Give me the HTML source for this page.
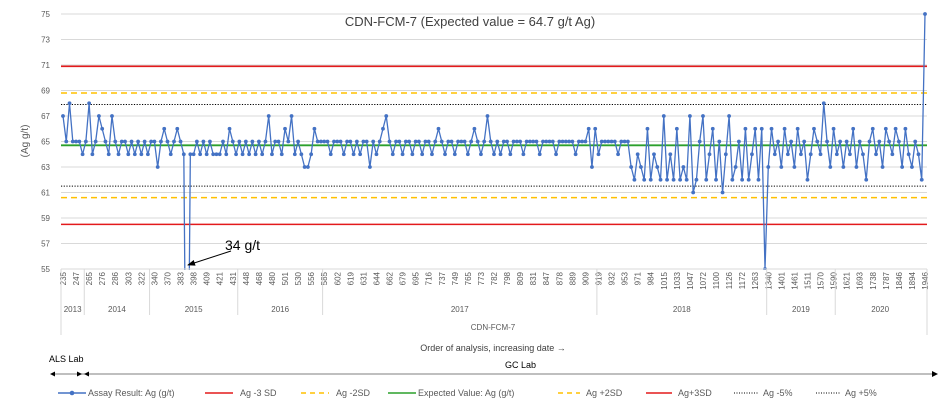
<!DOCTYPE html>
<html><head><meta charset="utf-8"><style>
html,body{margin:0;padding:0;background:#fff;width:948px;height:410px;overflow:hidden;}
svg{display:block;font-family:"Liberation Sans",sans-serif;}
</style></head><body>
<svg id="chart" width="948" height="410" xmlns="http://www.w3.org/2000/svg">
<defs><clipPath id="pc"><rect x="55" y="0" width="880" height="270"/></clipPath>
<marker id="ah" markerWidth="8" markerHeight="6" refX="7" refY="3" orient="auto"><path d="M0,0 L8,3 L0,6z" fill="#000"/></marker></defs>
<text x="470" y="26" font-size="13" text-anchor="middle" fill="#404040">CDN-FCM-7 (Expected value = 64.7 g/t Ag)</text>
<g id="grid"></g><g id="refs"></g><g id="series" clip-path="url(#pc)"></g><g id="xaxis"></g>
<text transform="translate(28,141) rotate(-90)" font-size="10" text-anchor="middle" fill="#595959">(Ag  g/t)</text>
<line x1="231" y1="251" x2="188" y2="265" stroke="#000" stroke-width="1" marker-end="url(#ah)"/>
<text x="225" y="250" font-size="14" fill="#000">34 g/t</text>
<text x="493" y="330" font-size="8" text-anchor="middle" fill="#595959">CDN-FCM-7</text>
<text x="493" y="351" font-size="9" text-anchor="middle" fill="#404040">Order of analysis, increasing date →</text>
<text x="49" y="362" font-size="9" fill="#000">ALS Lab</text>
<text x="505" y="368" font-size="9" fill="#000">GC Lab</text>
<line x1="52" y1="374" x2="936" y2="374" stroke="#7f7f7f" stroke-width="1"/>
<path d="M50,374 l5,-2.5 v5z M82,374 l-5,-2.5 v5z M84,374 l5,-2.5 v5z M938,374 l-6,-3 v6z" fill="#000"/>
<g id="legend" font-size="9" fill="#595959">
<line x1="58" y1="393" x2="86" y2="393" stroke="#4472c4" stroke-width="1.5"/><circle cx="72" cy="393" r="2.3" fill="#4472c4"/><text x="88" y="396">Assay Result: Ag (g/t)</text>
<line x1="205" y1="393" x2="233" y2="393" stroke="#e31a1c" stroke-width="1.5"/><text x="240" y="396">Ag -3 SD</text>
<line x1="301" y1="393" x2="329" y2="393" stroke="#ffc000" stroke-width="1.5" stroke-dasharray="5,4"/><text x="336" y="396">Ag -2SD</text>
<line x1="388" y1="393" x2="416" y2="393" stroke="#2ca02c" stroke-width="1.5"/><text x="418" y="396">Expected Value: Ag (g/t)</text>
<line x1="558" y1="393" x2="580" y2="393" stroke="#ffc000" stroke-width="1.5" stroke-dasharray="5,4"/><text x="586" y="396">Ag +2SD</text>
<line x1="646" y1="393" x2="672" y2="393" stroke="#e31a1c" stroke-width="1.5"/><text x="678" y="396">Ag+3SD</text>
<line x1="734" y1="393" x2="758" y2="393" stroke="#000" stroke-width="1" stroke-dasharray="1,1.5"/><text x="763" y="396">Ag -5%</text>
<line x1="816" y1="393" x2="840" y2="393" stroke="#000" stroke-width="1" stroke-dasharray="1,1.5"/><text x="845" y="396">Ag +5%</text>
</g>
</svg>
<script>
const yTicks=[55,57,59,61,63,65,67,69,71,73,75];
const tickLabels=[235,247,265,276,286,303,322,340,370,383,398,409,421,431,448,468,480,501,530,556,585,602,619,631,644,662,679,695,716,737,749,765,773,782,798,809,831,847,878,889,909,919,932,953,971,984,1015,1033,1047,1072,1100,1126,1172,1263,1340,1401,1461,1511,1570,1590,1621,1693,1738,1787,1846,1894,1946];
const years=["2013","2014","2015","2016","2017","2018","2019","2020"];
const yearStartIdx=[0,7,27,54,80,164,216,237,265];
const refValues=[58.5,60.6,61.5,64.7,67.9,68.8,70.9];
const refNames=["minus-3sd-line","minus-2sd-line","minus-5pct-line","expected-value-line","plus-5pct-line","plus-2sd-line","plus-3sd-line"];
const values=[67,65,68,65,65,65,64,65,68,64,65,67,66,65,64,67,65,64,65,65,
64,65,64,65,64,65,64,65,65,63,65,66,65,64,65,66,65,64,34,64,
64,65,64,65,64,65,64,64,64,65,64,66,65,64,65,64,65,64,65,64,
65,64,65,67,64,65,65,64,66,65,67,64,65,64,63,63,64,66,65,65,
65,65,64,65,65,65,64,65,65,64,65,64,65,65,63,65,64,65,66,67,
65,64,65,65,64,65,65,64,65,65,64,65,65,64,65,66,65,64,65,65,
64,65,65,65,64,65,66,65,64,65,67,65,64,65,64,65,65,64,65,65,
65,64,65,65,65,65,64,65,65,65,65,64,65,65,65,65,65,64,65,65,
65,66,63,66,64,65,65,65,65,65,64,65,65,65,63,62,64,63,62,66,
62,64,63,62,67,62,64,62,66,62,63,62,67,61,62,65,67,62,64,66,
62,65,61,64,67,62,63,65,62,66,62,64,66,62,66,55,63,66,64,65,
63,66,64,65,63,66,64,65,62,64,66,65,64,68,65,63,66,64,65,63,
65,64,66,63,65,64,62,65,66,64,65,63,66,65,64,66,65,63,66,64,
63,65,64,62,75];
const NS="http://www.w3.org/2000/svg";
const X0=63,X1=925,Y0=269,YT=14;
const n=values.length;
function xs(i){return X0+(X1-X0)*i/(n-1);}
function ys(v){return Y0-(v-55)*(Y0-YT)/20;}
function mk(tag,attrs,parent){const e=document.createElementNS(NS,tag);for(const k in attrs)e.setAttribute(k,attrs[k]);parent.appendChild(e);return e;}
const grid=document.getElementById('grid');
yTicks.forEach(v=>{
  const l=mk('line',{x1:61,x2:927,y1:ys(v),y2:ys(v),stroke:'#d9d9d9','stroke-width':1},grid);
  
  
  const t=mk('text',{x:50,y:ys(v)+3,'font-size':8,'text-anchor':'end',fill:'#595959'},grid);
  t.textContent=v;
  
  
});
const refs=document.getElementById('refs');
const refStyle=[['#e31a1c',1.6,''],['#ffc000',1.5,'6,4'],['#000',1,'1.2,1.5'],['#2ca02c',1.8,''],['#000',1,'1.2,1.5'],['#ffc000',1.5,'6,4'],['#e31a1c',1.6,'']];
refValues.forEach((v,i)=>{
  const s=refStyle[i];
  const a={x1:61,x2:927,y1:ys(v),y2:ys(v),stroke:s[0],'stroke-width':s[1]};
  if(s[2])a['stroke-dasharray']=s[2];
  const l=mk('line',a,refs);
  
  
});
const ser=document.getElementById('series');
let d='';
values.forEach((v,i)=>{d+=(i?'L':'M')+xs(i).toFixed(2)+','+ys(v).toFixed(2);});
const p=mk('path',{d:d,fill:'none',stroke:'#4472c4','stroke-width':1.3},ser);


values.forEach((v,i)=>{
  const c=mk('circle',{cx:xs(i),cy:ys(v),r:1.9,fill:'#4472c4'},ser);
  
  
});
const xa=document.getElementById('xaxis');
mk('line',{x1:61,x2:927,y1:Y0,y2:Y0,stroke:'#d9d9d9'},xa);
const step=(n-1)/(tickLabels.length-1);
tickLabels.forEach((lab,i)=>{
  const x=xs(i*step);
  const t=mk('text',{transform:`translate(${x+3},272) rotate(-90)`,'font-size':8,'text-anchor':'end',fill:'#595959'},xa);
  t.textContent=lab;
  
  
});
years.forEach((yr,i)=>{
  const a=xs(yearStartIdx[i])-(i?1.6:2),b=xs(Math.min(yearStartIdx[i+1],n-1))+(i==years.length-1?0:-1.6);
  const sep=mk('line',{x1:a,x2:a,y1:Y0,y2:i?315:335,stroke:'#d9d9d9'},xa);
  
  
  const t=mk('text',{x:(a+b)/2,y:312,'font-size':8,'text-anchor':'middle',fill:'#595959'},xa);
  t.textContent=yr;
  
  
});
mk('line',{x1:927,x2:927,y1:Y0,y2:335,stroke:'#d9d9d9'},xa);
</script>
</body></html>
